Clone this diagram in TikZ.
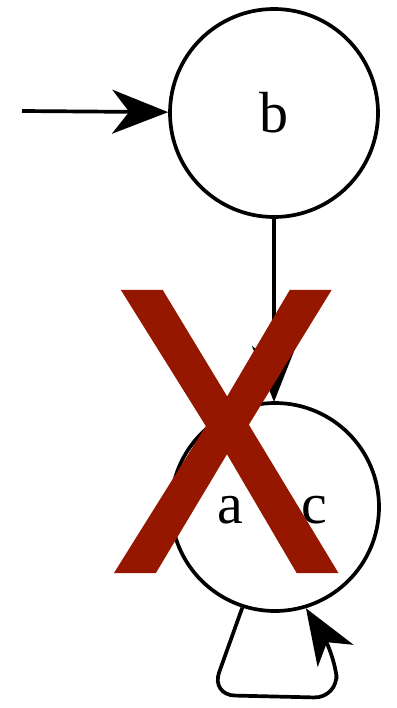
\documentclass[tikz,border=0pt]{standalone}
\usepackage{fontspec}
\setmainfont{Liberation Serif}
\newfontfamily\xfont[FakeBold=1.5]{Liberation Sans}
\usetikzlibrary{arrows.meta}
\definecolor{xred}{RGB}{149,23,0}
\tikzset{
  state/.style={circle, draw, line width=3.7pt, minimum size=208pt, inner sep=0pt, font=\fontsize{58}{60}\selectfont},
  lbl/.style={inner sep=0pt, anchor=base, font=\fontsize{58}{60}\selectfont},
  edge/.style={line width=3.7pt},
  bigtip/.style={-{Stealth[length=56pt, width=44pt, inset=17pt]}},
  looptip/.style={-{Stealth[length=56pt, width=42pt, inset=16pt]}}
}
\begin{document}
\begin{tikzpicture}[x=1pt, y=-1pt]
\useasboundingbox (0,0) rectangle (396,708);
\node[state] (b) at (274,113) {b};
\node[state] (ac) at (275,507) {};
\node[lbl] (a) at (230,523) {a};
\node[lbl] (c) at (314,523) {c};
\coordinate (start) at (22,111);
\draw[edge, bigtip] (start) -- (b);
\draw[edge, bigtip] (b) -- (274,402);
\draw[edge, looptip, rounded corners=24pt] (ac.-108) -- (211,695) -- (338,698) -- (335,655) -- (ac.-73);
\node[inner sep=0pt, text=xred] (x) at (226,431.5) {\resizebox{229pt}{277pt}{\xfont X}};
\end{tikzpicture}
\end{document}
